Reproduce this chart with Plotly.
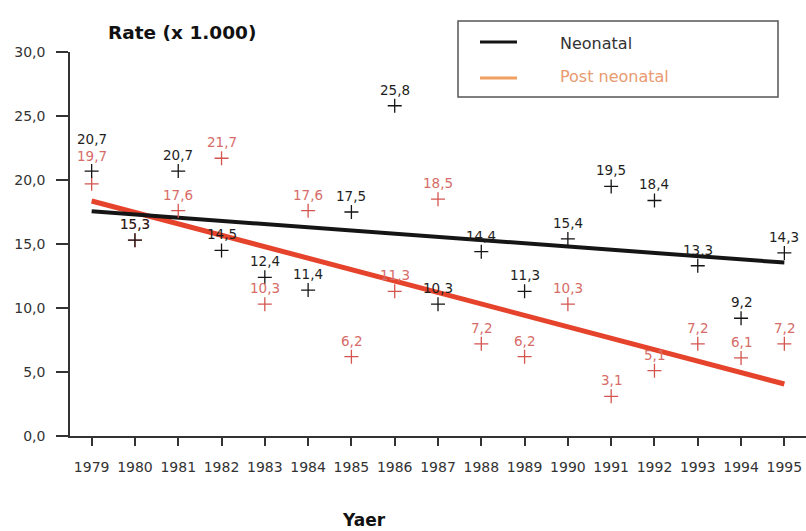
import numpy as np
import plotly.graph_objects as go

years = list(range(1979, 1996))
neonatal = [20.7, 15.3, 20.7, 14.5, 12.4, 11.4, 17.5, 25.8, 10.3, 14.4, 11.3, 15.4, 19.5, 18.4, 13.3, 9.2, 14.3]
post_neonatal = [19.7, 15.3, 17.6, 21.7, 10.3, 17.6, 6.2, 11.3, 18.5, 7.2, 6.2, 10.3, 3.1, 5.1, 7.2, 6.1, 7.2]
y_ticks = [0, 5, 10, 15, 20, 25, 30]

BLACK = "#151515"
RED_LINE = "#e5432c"
RED_PT = "#d4554f"
RED_TXT = "#d66c68"
LEG_ORANGE = "#f0a060"
FONT = "DejaVu Sans, Verdana, sans-serif"

def fmt(v):
    return f"{v:.1f}".replace(".", ",")

fig = go.Figure()

# trend lines (least squares)
x = np.array(years, dtype=float)
for vals, col, w in [(post_neonatal, RED_LINE, 5), (neonatal, BLACK, 4)]:
    a, b = np.polyfit(x, np.array(vals), 1)
    xe = np.array([years[0], years[-1]], dtype=float)
    fig.add_trace(go.Scatter(x=xe, y=a * xe + b, mode="lines",
                             line=dict(color=col, width=w), showlegend=False, hoverinfo="skip"))

# markers
for vals, col in [(post_neonatal, RED_PT), (neonatal, BLACK)]:
    fig.add_trace(go.Scatter(x=years, y=vals, mode="markers",
                             marker=dict(symbol="cross-thin", size=10,
                                         line=dict(color=col, width=1.3)),
                             showlegend=False))

# value labels
extra_shift = {("post", 1979): 12, ("neo", 1979): 16}
for key, vals, col in [("post", post_neonatal, RED_TXT), ("neo", neonatal, "#1e1e1e")]:
    for yr, v in zip(years, vals):
        fig.add_annotation(x=yr, y=v, text=fmt(v), showarrow=False,
                           yshift=16 + extra_shift.get((key, yr), 0),
                           font=dict(family=FONT, size=13.5, color=col))

def px(xp):
    return (xp - 70) / 736
def py(yp):
    return (436 - yp) / 384

# titles
fig.add_annotation(xref="paper", yref="paper", x=px(182), y=py(32),
                   text="<b>Rate (x 1.000)</b>", showarrow=False, xanchor="center",
                   font=dict(family=FONT, size=18.5, color="#111"), yanchor="middle")
fig.add_annotation(xref="paper", yref="paper", x=px(364), y=py(520),
                   text="<b>Yaer</b>", showarrow=False, xanchor="center",
                   font=dict(family=FONT, size=17, color="#111"), yanchor="middle")

# legend box (drawn manually)
fig.add_shape(type="rect", xref="paper", yref="paper", x0=px(458), x1=px(778), y0=py(97), y1=py(21),
              line=dict(color="#555", width=1.5), fillcolor="white", layer="above")
fig.add_shape(type="line", xref="paper", yref="paper", x0=px(480), x1=px(517), y0=py(42), y1=py(42),
              line=dict(color=BLACK, width=3))
fig.add_shape(type="line", xref="paper", yref="paper", x0=px(480), x1=px(517), y0=py(78), y1=py(78),
              line=dict(color=LEG_ORANGE, width=3))
fig.add_annotation(xref="paper", yref="paper", x=px(558), y=py(43), text="Neonatal", showarrow=False,
                   xanchor="left", yanchor="middle", font=dict(family=FONT, size=16, color="#333"))
fig.add_annotation(xref="paper", yref="paper", x=px(558), y=py(77), text="Post neonatal", showarrow=False,
                   xanchor="left", yanchor="middle", font=dict(family=FONT, size=16, color="#e89a70"))

fig.update_layout(
    width=806, height=531,
    margin=dict(l=70, r=0, t=52, b=95),
    paper_bgcolor="white", plot_bgcolor="white",
    font=dict(family=FONT, size=12, color="#333"),
    showlegend=False,
    xaxis=dict(range=[1978.5, 1995.5], tickmode="array", tickvals=years,
               ticktext=[str(y) for y in years], showgrid=False, zeroline=False,
               showline=True, linecolor="#333", linewidth=1.5,
               ticks="outside", ticklen=8, tickwidth=1.5, tickcolor="#333",
               ticklabelstandoff=9, tickfont=dict(size=14, color="#333")),
    yaxis=dict(range=[0, 30], tickmode="array", tickvals=y_ticks,
               ticktext=[fmt(v) for v in y_ticks], showgrid=False, zeroline=False,
               showline=True, linecolor="#333", linewidth=1.5,
               ticks="outside", ticklen=12, tickwidth=1.5, tickcolor="#333",
               ticklabelstandoff=8, tickfont=dict(size=14, color="#333")),
)

fig.write_html("out.html")
